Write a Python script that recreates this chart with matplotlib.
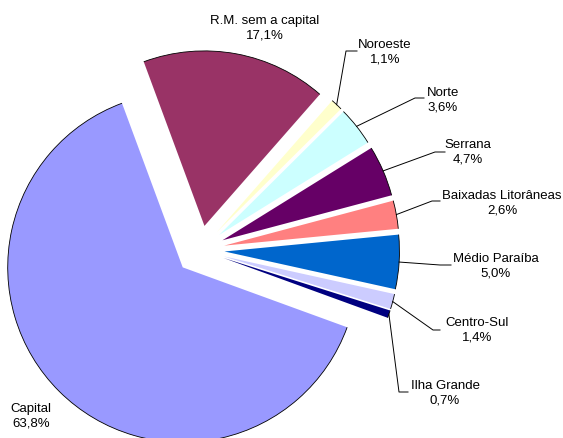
import math
import matplotlib
matplotlib.use("Agg")
import matplotlib.pyplot as plt
from matplotlib.patches import Arc

plt.rcParams['font.family'] = ['Liberation Sans', 'DejaVu Sans']

# regions, clockwise starting from R.M.
regioes = ["R.M. sem a capital", "Noroeste", "Norte", "Serrana",
           "Baixadas Litorâneas", "Médio Paraíba", "Centro-Sul",
           "Ilha Grande", "Capital"]
percentuais = [17.1, 1.1, 3.6, 4.7, 2.6, 5.0, 1.4, 0.7, 63.8]
cores = ["#993366", "#FFFFCC", "#CCFFFF", "#660066", "#FF8080",
         "#0066CC", "#CCCCFF", "#000080", "#9999FF"]

# label text centre and leader elbow / end (pixels, y measured from the top)
pos_texto = [(265, 28), (385, 52), (443, 100), (468, 152), (502, 203),
             (496, 266), (477, 330), (445, 393), (31, 416)]
cotovelo = [None, (346, 52), (415, 99), (435, 153), (432, 202),
            (440, 266), (433, 331), (399, 393), None]
fim_linha = [None, (357, 52), (424, 99), (445, 153), (440, 202),
             (451, 266), (440, 331), (408, 393), None]

W, H = 563, 439
fig = plt.figure(figsize=(W / 100, H / 100), dpi=100)
ax = fig.add_axes([0, 0, 1, 1])

raio = 175
centro = (200, H - 251)
wedges, _ = ax.pie(percentuais, colors=cores, radius=raio, center=centro,
                   startangle=110.3, counterclock=False,
                   explode=[24.5] * len(percentuais),
                   wedgeprops=dict(linewidth=0))

for i, w in enumerate(wedges):
    cx, cy = w.center
    # only the outer rim gets a black outline
    ax.add_patch(Arc((cx, cy), 2 * w.r, 2 * w.r, theta1=w.theta1,
                     theta2=w.theta2, color="black", lw=0.6))

    rotulo = f"{regioes[i]}\n{percentuais[i]:.1f}%".replace(".", ",")
    rotulo = rotulo.replace("R,M,", "R.M.")
    tx, ty = pos_texto[i]
    ax.text(tx, H - ty, rotulo, ha="center", va="center",
            fontsize=9.5, linespacing=1.3)

    if cotovelo[i] is not None:
        meio = math.radians((w.theta1 + w.theta2) / 2)
        px = cx + w.r * math.cos(meio)
        py = cy + w.r * math.sin(meio)
        ex, ey = cotovelo[i]
        fx, fy = fim_linha[i]
        ax.plot([px, ex, fx], [py, H - ey, H - fy], color="black", lw=0.7)

ax.set_xlim(0, W)
ax.set_ylim(0, H)
ax.set_aspect("equal")
ax.set_axis_off()

fig.savefig("out.png", dpi=100)
